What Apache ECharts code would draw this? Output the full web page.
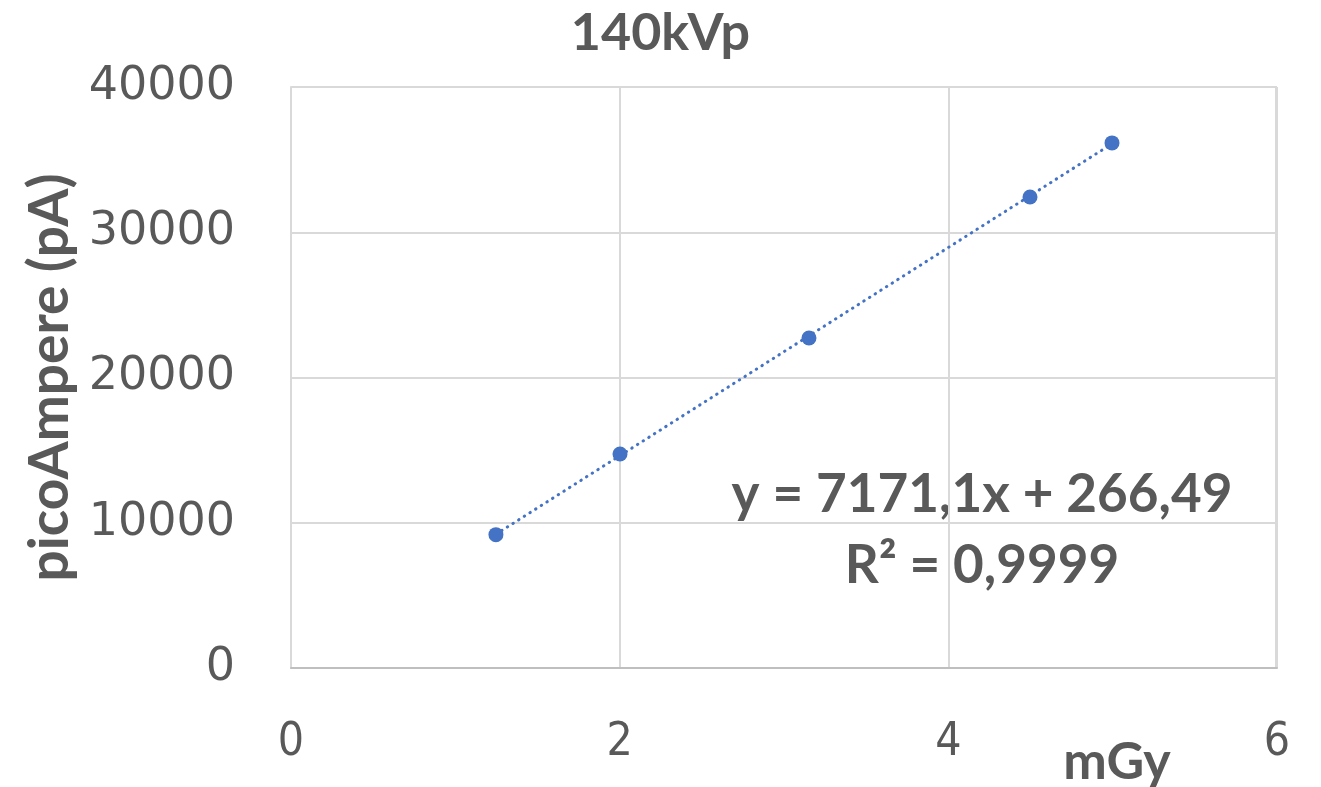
<!DOCTYPE html>
<html>
<head>
<meta charset="utf-8">
<script src="https://cdn.jsdelivr.net/npm/echarts@6/dist/echarts.min.js"></script>
<style>html,body{margin:0;padding:0;background:#fff}#c{width:1321px;height:787px}</style>
</head>
<body>
<div id="c"></div>
<script>
var titleText = '140kVp';
var xName = 'mGy';
var yName = 'picoAmpere (pA)';
var doseMGy = [1.247, 2.002, 3.152, 4.497, 4.996];
var currentPA = [9180, 14730, 22720, 32430, 36150];
var slope = 7171.1;
var intercept = 266.49;
var eqLine1 = 'y = 7171,1x + 266,49';
var eqLine2 = 'R² = 0,9999';

var pts = doseMGy.map(function(x, i){ return [x, currentPA[i]]; });
var xMin = Math.min.apply(null, doseMGy), xMax = Math.max.apply(null, doseMGy);
var trend = [[xMin, slope * xMin + intercept], [xMax, slope * xMax + intercept]];

var chart = echarts.init(document.getElementById('c'), null, {renderer: 'canvas'});
var textColor = '#595959';
chart.setOption({
  animation: false,
  title: {
    text: titleText, left: 'center', top: 2,
    textStyle: {fontFamily: 'Lato', fontWeight: 'bold', fontSize: 52, color: textColor}
  },
  grid: {left: 291, right: 44, top: 87, bottom: 119},
  xAxis: {
    type: 'value', min: 0, max: 6, interval: 2,
    axisLine: {show: true, lineStyle: {color: '#bfbfbf', width: 2}},
    axisTick: {show: false},
    splitLine: {show: true, lineStyle: {color: '#d9d9d9', width: 2}},
    axisLabel: {margin: 52, fontFamily: 'DejaVu Sans Condensed', fontSize: 46, color: textColor}
  },
  yAxis: {
    type: 'value', min: 0, max: 40000, interval: 10000,
    name: yName, nameLocation: 'middle', nameGap: 208,
    nameTextStyle: {fontFamily: 'Lato', fontWeight: 'bold', fontSize: 55, color: textColor},
    axisLine: {show: true, lineStyle: {color: '#d9d9d9', width: 2}},
    axisTick: {show: false},
    splitLine: {show: true, lineStyle: {color: '#d9d9d9', width: 2}},
    axisLabel: {margin: 56, fontFamily: 'DejaVu Sans', fontSize: 46, color: textColor,
      formatter: function(v){ return String(v); }}
  },
  graphic: [
    {type: 'rect', shape: {x: 1276, y: 87, width: 0, height: 581}, style: {stroke: '#d9d9d9', lineWidth: 2}},
    {type: 'text', x: 1117, y: 762, style: {text: xName, font: 'bold 52px Lato', fill: textColor, textAlign: 'center', textVerticalAlign: 'middle'}},
    {type: 'text', x: 982, y: 495, style: {text: eqLine1, font: 'bold 53px Lato', fill: textColor, textAlign: 'center', textVerticalAlign: 'middle'}},
    {type: 'text', x: 982, y: 566, style: {text: eqLine2, font: 'bold 53px Lato', fill: textColor, textAlign: 'center', textVerticalAlign: 'middle'}}
  ],
  series: [
    {
      type: 'line', data: trend, symbol: 'none', silent: true,
      lineStyle: {color: '#4472C4', width: 3, type: [0.5, 6.2], cap: 'round'}, z: 2
    },
    {
      type: 'scatter', data: pts, symbol: 'circle', symbolSize: 15,
      itemStyle: {color: '#4472C4', opacity: 1}, z: 3
    }
  ]
});
</script>
</body>
</html>
